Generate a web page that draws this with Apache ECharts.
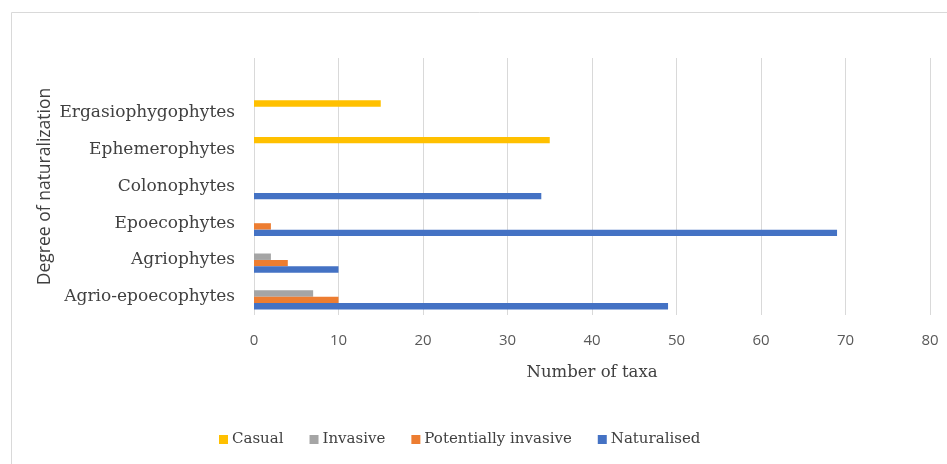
<!DOCTYPE html>
<html>
<head>
<meta charset="utf-8">
<script src="https://cdn.jsdelivr.net/npm/echarts@6/dist/echarts.min.js"></script>
<style>html,body{margin:0;padding:0;background:#fff}#c{width:947px;height:464px}</style>
</head>
<body>
<div id="c"></div>
<script>
const categories = ['Agrio-epoecophytes', 'Agriophytes', 'Epoecophytes', 'Colonophytes', 'Ephemerophytes', 'Ergasiophygophytes', ''];
const casual = [null, null, null, null, 35, 15, null];
const invasive = [7, 2, null, null, null, null, null];
const potentiallyInvasive = [10, 4, 2, null, null, null, null];
const naturalised = [49, 10, 69, 34, null, null, null];
const xTicks = [0, 80, 10];

const chart = echarts.init(document.getElementById('c'));
const serif = 'DejaVu Serif';
const sans = 'Open Sans';
chart.setOption({
  animation: false,
  graphic: [{type: 'rect', shape: {x: 11.5, y: 12.5, width: 1000, height: 1000}, style: {fill: 'none', stroke: '#d9d9d9', lineWidth: 1}}],
  grid: {left: 254, right: 17, top: 58, bottom: 149},
  legend: {
    data: ['Casual', 'Invasive', 'Potentially invasive', 'Naturalised'],
    left: 214, top: 427, itemWidth: 9, itemHeight: 9, itemGap: 26, icon: 'rect',
    textStyle: {fontFamily: serif, fontSize: 15, color: '#404040', padding: [0, 0, 0, -1]}
  },
  xAxis: {
    type: 'value', min: xTicks[0], max: xTicks[1], interval: xTicks[2],
    name: 'Number of taxa', nameLocation: 'middle', nameGap: 49, nameMoveOverlap: false,
    nameTextStyle: {fontFamily: serif, fontSize: 16.5, color: '#404040'},
    axisLine: {show: false}, axisTick: {show: false},
    axisLabel: {fontFamily: sans, fontSize: 15, color: '#595959', margin: 18},
    splitLine: {show: true, lineStyle: {color: '#d9d9d9', width: 1}}
  },
  yAxis: {
    type: 'category', data: categories,
    name: 'Degree of naturalization', nameLocation: 'middle', nameGap: 200, nameRotate: 90, nameMoveOverlap: false,
    nameTextStyle: {fontFamily: sans, fontSize: 17.5, color: '#404040'},
    axisLine: {show: false}, axisTick: {show: false},
    axisLabel: {fontFamily: serif, fontSize: 17, color: '#404040', margin: 19}
  },
  series: [
    {name: 'Casual', type: 'bar', data: casual, itemStyle: {color: '#FFC000'}, barGap: '0%', barCategoryGap: '30%'},
    {name: 'Invasive', type: 'bar', data: invasive, itemStyle: {color: '#A5A5A5'}},
    {name: 'Potentially invasive', type: 'bar', data: potentiallyInvasive, itemStyle: {color: '#ED7D31'}},
    {name: 'Naturalised', type: 'bar', data: naturalised, itemStyle: {color: '#4472C4'}}
  ]
});
</script>
</body>
</html>
